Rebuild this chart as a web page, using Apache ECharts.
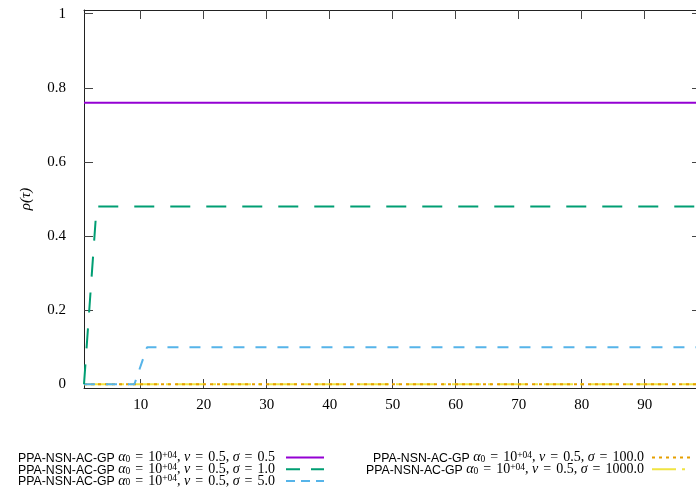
<!DOCTYPE html>
<html>
<head>
<meta charset="utf-8">
<script src="https://cdn.jsdelivr.net/npm/echarts@6/dist/echarts.min.js"></script>
<style>html,body{margin:0;padding:0;background:#fff;}#c{width:696px;height:492px;}</style>
</head>
<body>
<div id="c"></div>
<script>
// ---- data ----
const seriesKeys = ['s05', 's10', 's50', 's100', 's1000'];
const sigmaLabels = ['0.5', '1.0', '5.0', '100.0', '1000.0'];
const xTicks = [10, 20, 30, 40, 50, 60, 70, 80, 90];
const yTicks = [0, 0.2, 0.4, 0.6, 0.8, 1];
const yTickLabels = ['0', '0.2', '0.4', '0.6', '0.8', '1'];

const xSigma05 = [1, 99];
const ySigma05 = [0.76, 0.76];
const xSigma10 = [1, 3, 99];
const ySigma10 = [0, 0.48, 0.48];
const xSigma50 = [1, 9, 11, 99];
const ySigma50 = [0, 0, 0.1, 0.1];
const xSigma100 = [1, 99];
const ySigma100 = [0, 0];
const xSigma1000 = [1, 99];
const ySigma1000 = [0, 0];

const xs = [xSigma05, xSigma10, xSigma50, xSigma100, xSigma1000];
const ys = [ySigma05, ySigma10, ySigma50, ySigma100, ySigma1000];

const colors = ['#9400d3', '#009e73', '#56b4e9', '#e69f00', '#f0e442'];
const dashes = ['solid', [20, 16], [11, 11], [3, 4], [29, 7, 4, 6]];
const legendDashes = ['solid', [14, 11], [9, 6], [3, 4], [24, 6, 3, 6]];

const serif = 'Liberation Serif';
const sans = 'Liberation Sans';

function pairs(x, y) { return x.map((v, i) => [v, y[i]]); }

const series = seriesKeys.map((k, i) => ({
  name: k,
  type: 'line',
  xAxisIndex: 0,
  yAxisIndex: 0,
  data: pairs(xs[i], ys[i]),
  symbol: 'none',
  showSymbol: false,
  animation: false,
  z: 10 - i,
  lineStyle: { color: colors[i], width: 2, type: dashes[i] },
  itemStyle: { color: colors[i] }
}));

const LH = 14;
const rich = {
  s: { fontFamily: sans, fontSize: 12.3, color: '#000', lineHeight: LH, verticalAlign: 'bottom' },
  g: { fontFamily: serif, fontStyle: 'italic', fontSize: 14, color: '#000', lineHeight: LH, verticalAlign: 'bottom' },
  n: { fontFamily: serif, fontSize: 14, color: '#000', lineHeight: LH, verticalAlign: 'bottom' },
  eq: { fontFamily: serif, fontSize: 14, color: '#000', lineHeight: LH, verticalAlign: 'bottom', padding: [0, 5, 0, 5] },
  sup: { fontFamily: serif, fontSize: 9.5, color: '#000', lineHeight: 8, verticalAlign: 'top' },
  sub: { fontFamily: serif, fontSize: 9.5, color: '#000', lineHeight: 10, verticalAlign: 'bottom' }
};

function fmt(name) {
  const i = seriesKeys.indexOf(name);
  return '{s|PPA-NSN-AC-GP }{g|α}{sub|0}{eq|=}{n|10}{sup|+04}{n|, }{g|ν}{eq|=}{n|0.5, }{g|σ}{eq|=}{n|' + sigmaLabels[i] + '}';
}

const tickStyle = { show: true, inside: true, length: 9, lineStyle: { color: '#444', width: 1 } };
const lineStyleAxis = { show: true, onZero: false, lineStyle: { color: '#222', width: 1 } };
const legendItemStyle = { color: 'rgba(0,0,0,0)', borderColor: 'rgba(0,0,0,0)', borderWidth: 0 };

function legendData(from, to) {
  return seriesKeys.slice(from, to).map((k, j) => ({
    name: k,
    lineStyle: { type: legendDashes[from + j], width: 2, color: colors[from + j] }
  }));
}

const chart = echarts.init(document.getElementById('c'), null, { renderer: 'canvas' });
chart.setOption({
  backgroundColor: '#fff',
  animation: false,
  grid: { left: 84, top: 10, right: 0, bottom: 104, containLabel: false },
  xAxis: [
    {
      type: 'value', min: 1, max: 98.14, position: 'bottom',
      axisLine: lineStyleAxis,
      axisTick: Object.assign({ customValues: xTicks }, tickStyle),
      axisLabel: { customValues: xTicks, fontFamily: serif, fontSize: 15, color: '#000', margin: 10 },
      splitLine: { show: false }
    },
    {
      type: 'value', min: 1, max: 98.14, position: 'top',
      axisLine: lineStyleAxis,
      axisTick: Object.assign({ customValues: xTicks }, tickStyle),
      axisLabel: { show: false },
      splitLine: { show: false }
    }
  ],
  yAxis: [
    {
      type: 'value', min: -0.01, max: 1.01, position: 'left',
      name: 'ρ(τ)', nameLocation: 'middle', nameRotate: 90, nameGap: 50,
      nameTextStyle: { fontFamily: serif, fontStyle: 'italic', fontSize: 15, color: '#000' },
      axisLine: lineStyleAxis,
      axisTick: Object.assign({ customValues: yTicks }, tickStyle),
      axisLabel: {
        customValues: yTicks, fontFamily: serif, fontSize: 15, color: '#000', margin: 18,
        formatter: v => { const i = yTicks.findIndex(t => Math.abs(t - v) < 1e-9); return i >= 0 ? yTickLabels[i] : ''; }
      },
      splitLine: { show: false }
    },
    {
      type: 'value', min: -0.01, max: 1.01, position: 'right',
      axisLine: { show: false },
      axisTick: { show: true, inside: true, length: 4, customValues: yTicks, lineStyle: { color: '#444', width: 1 } },
      axisLabel: { show: false },
      splitLine: { show: false }
    }
  ],
  legend: [
    {
      data: legendData(0, 3),
      orient: 'vertical', right: 371, top: 450.5, height: 100, align: 'right', padding: 0,
      itemWidth: 38, itemHeight: 11, itemGap: -2.3,
      itemStyle: legendItemStyle,
      formatter: fmt,
      textStyle: { padding: [0, 6, 0, 0], rich: rich }
    },
    {
      data: legendData(3, 5),
      orient: 'vertical', right: 5, top: 450.5, height: 100, align: 'right', padding: 0,
      itemWidth: 38, itemHeight: 11, itemGap: -2.3,
      itemStyle: legendItemStyle,
      formatter: fmt,
      textStyle: { padding: [0, 3, 0, 0], rich: rich }
    }
  ],
  series: series
});
</script>
</body>
</html>
